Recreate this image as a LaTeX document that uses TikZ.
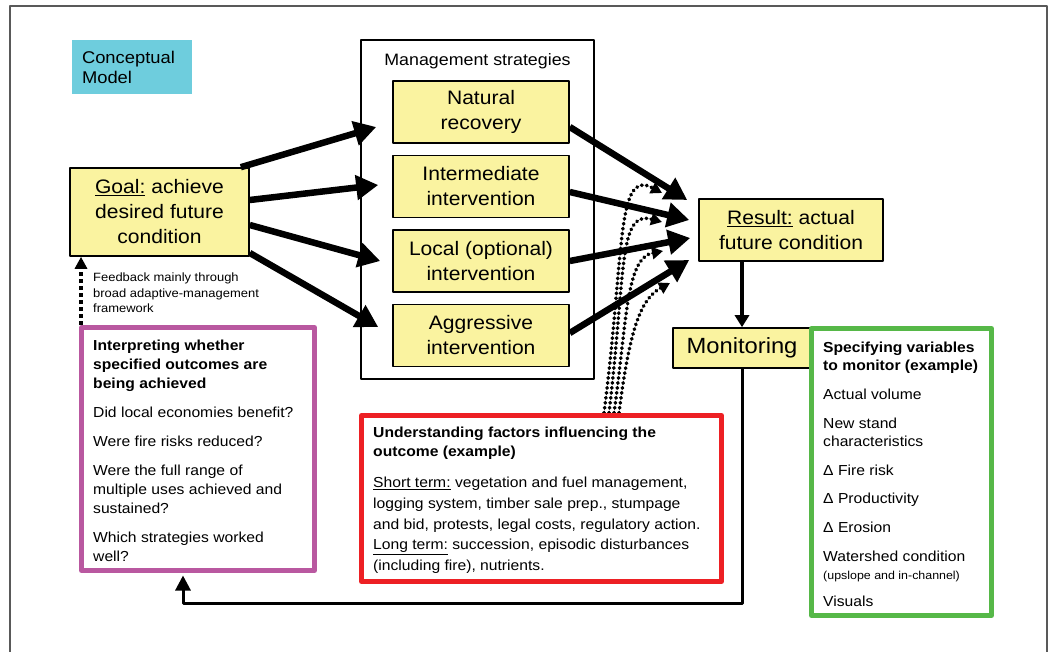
\documentclass[tikz,border=0pt]{standalone}
\usepackage{fontspec}
\setmainfont{Liberation Sans}[FakeStretch=1.08]
\usetikzlibrary{arrows.meta}
\definecolor{boxyellow}{HTML}{FAF3A0}
\definecolor{conceptcyan}{HTML}{6ECDDD}
\definecolor{framepurple}{HTML}{B958A0}
\definecolor{framered}{HTML}{ED2024}
\definecolor{framegreen}{HTML}{56B848}
\begin{document}
\begin{tikzpicture}[x=1pt, y=-1pt, line join=round,
	yellowbox/.style={draw, line width=1.6pt, fill=boxyellow, align=center, inner sep=0pt, font=\fontsize{19.5}{25}\selectfont},
	framebox/.style={draw, line width=5pt, inner sep=0pt},
	listtext/.style={align=left, inner sep=0pt, anchor=north west, font=\fontsize{14.5}{19.3}\selectfont},
	bigarrow/.style={line width=6.5pt, -{Triangle[length=22pt,width=24pt]}},
	dotbundle/.style={line width=3.6pt, line cap=round, dash pattern=on 0.6pt off 4.4pt, -{Triangle[length=11pt,width=12pt]}}]
	\useasboundingbox (0,0) rectangle (1051,652);
	\draw[black!65, line width=1.5pt] (10,652)--(10,6)--(1047,6)--(1047,652);
	% title
	\node[fill=conceptcyan, minimum width=120, minimum height=54, text width=100, align=left, inner sep=0pt, font=\fontsize{17}{20}\selectfont] (concept) at (132,67) {Conceptual\\Model};
	% goal and strategies
	\node[yellowbox, minimum width=179, minimum height=88] (goal) at (159.5,212) {\underline{Goal:} achieve\\desired future\\condition};
	\node[draw, line width=1.6pt, minimum width=233, minimum height=339] (mgmt) at (477.5,209.5) {};
	\node[font=\fontsize{16.5}{20}\selectfont] (mgmttitle) at ([yshift=-22.5]mgmt.north) {Management strategies};
	\node[yellowbox, minimum width=176, minimum height=62] (natural) at (481,112) {Natural\\recovery};
	\node[yellowbox, minimum width=176, minimum height=62] (intermediate) at (481,186.5) {Intermediate\\intervention};
	\node[yellowbox, minimum width=176, minimum height=62] (local) at (481,261) {Local (optional)\\intervention};
	\node[yellowbox, minimum width=176, minimum height=62] (aggressive) at (481,335.5) {Aggressive\\intervention};
	\node[yellowbox, minimum width=184, minimum height=62] (result) at (791,230) {\underline{Result:} actual\\future condition};
	\node[yellowbox, minimum width=138, minimum height=40, font=\fontsize{22}{26}\selectfont] (monitor) at (742,348) {Monitoring};
	% outside factors
	\draw[dotbundle] (604,413) .. controls (625,250) and (616,168) .. (662,193);
	\draw[dotbundle] (609,413) .. controls (626,270) and (618,210) .. (662,222);
	\draw[dotbundle] (614,413) .. controls (627,320) and (626,258) .. (663,251);
	\draw[dotbundle] (619,413) .. controls (630,325) and (642,298) .. (670,283);
	\draw[bigarrow] ([xshift=-9]goal.north east) -- ([xshift=-16,yshift=-15]natural.west);
	\draw[bigarrow] ([yshift=12]goal.east) -- ([xshift=-14,yshift=1.5]intermediate.west);
	\draw[bigarrow] ([yshift=-13]goal.east) -- ([xshift=-12]local.west);
	\draw[bigarrow] ([yshift=-41]goal.east) -- ([xshift=-14,yshift=8.5]aggressive.west);
	\draw[bigarrow] ([yshift=-15]natural.east) -- ([xshift=-11,yshift=30]result.west);
	\draw[bigarrow] ([yshift=-5.5]intermediate.east) -- ([xshift=-9,yshift=10]result.west);
	\draw[bigarrow] (local.east) -- ([xshift=-8,yshift=-8]result.west);
	\draw[bigarrow] ([yshift=2.5]aggressive.east) -- ([xshift=-9,yshift=-30]result.west);
	\draw[line width=4.5pt, -{Triangle[length=12pt,width=14pt]}] (result.south -| monitor.north) -- (monitor.north);
	% boxes with examples
	\node[framebox, draw=framepurple, minimum width=233, minimum height=243] (interp) at (198,449) {};
	\node[listtext] (interptext) at (93,339.5) {\textbf{Interpreting whether}\\\textbf{specified outcomes are}\\\textbf{being achieved}\\[9.5pt]
		Did local economies benefit?\\[9.5pt]
		Were fire risks reduced?\\[9.5pt]
		Were the full range of\\multiple uses achieved and\\sustained?\\[9.5pt]
		Which strategies worked\\well?};
	\node[framebox, draw=framered, minimum width=360, minimum height=166] (factors) at (541.5,498.5) {};
	\node[listtext, font=\fontsize{14.5}{20.7}\selectfont] (factorstext) at (373,427) {\textbf{Understanding factors influencing the}\\[-1.5pt]\textbf{outcome (example)}\\[10pt]
		\underline{Short term:} vegetation and fuel management,\\logging system, timber sale prep., stumpage\\and bid, protests, legal costs, regulatory action.\\
		\underline{Long term:} succession, episodic disturbances\\(including fire), nutrients.};
	\node[framebox, draw=framegreen, minimum width=180, minimum height=287] (vars) at (901.5,472) {};
	\node[listtext, font=\fontsize{14.5}{18.6}\selectfont] (varstext) at (823,341.5) {\textbf{Specifying variables}\\\textbf{to monitor (example)}\\[10pt]
		Actual volume\\[10pt]
		New stand\\characteristics\\[10pt]
		Δ Fire risk\\[10pt]
		Δ Productivity\\[10pt]
		Δ Erosion\\[10pt]
		Watershed condition\\{\fontsize{11.5}{13}\selectfont (upslope and in-channel)}\\[8.5pt]
		Visuals};
	% feedback
	\draw[line width=4.5pt, dash pattern=on 4pt off 3pt, -{Triangle[length=12pt,width=12pt]}] ([xshift=2]interp.north west) -- ([xshift=2]interp.north west |- goal.south);
	\node[align=left, inner sep=0pt, anchor=north west, font=\fontsize{12}{15.5}\selectfont] (fbnote) at (93,273) {Feedback mainly through\\broad adaptive-management\\framework};
	\coordinate (loopcorner) at (183,603);
	\draw[line width=3pt, shorten >=2.5pt, -{Triangle[length=15pt,width=15pt]}] (monitor.south) |- (loopcorner) -- (loopcorner |- interp.south);
\end{tikzpicture}
\end{document}
